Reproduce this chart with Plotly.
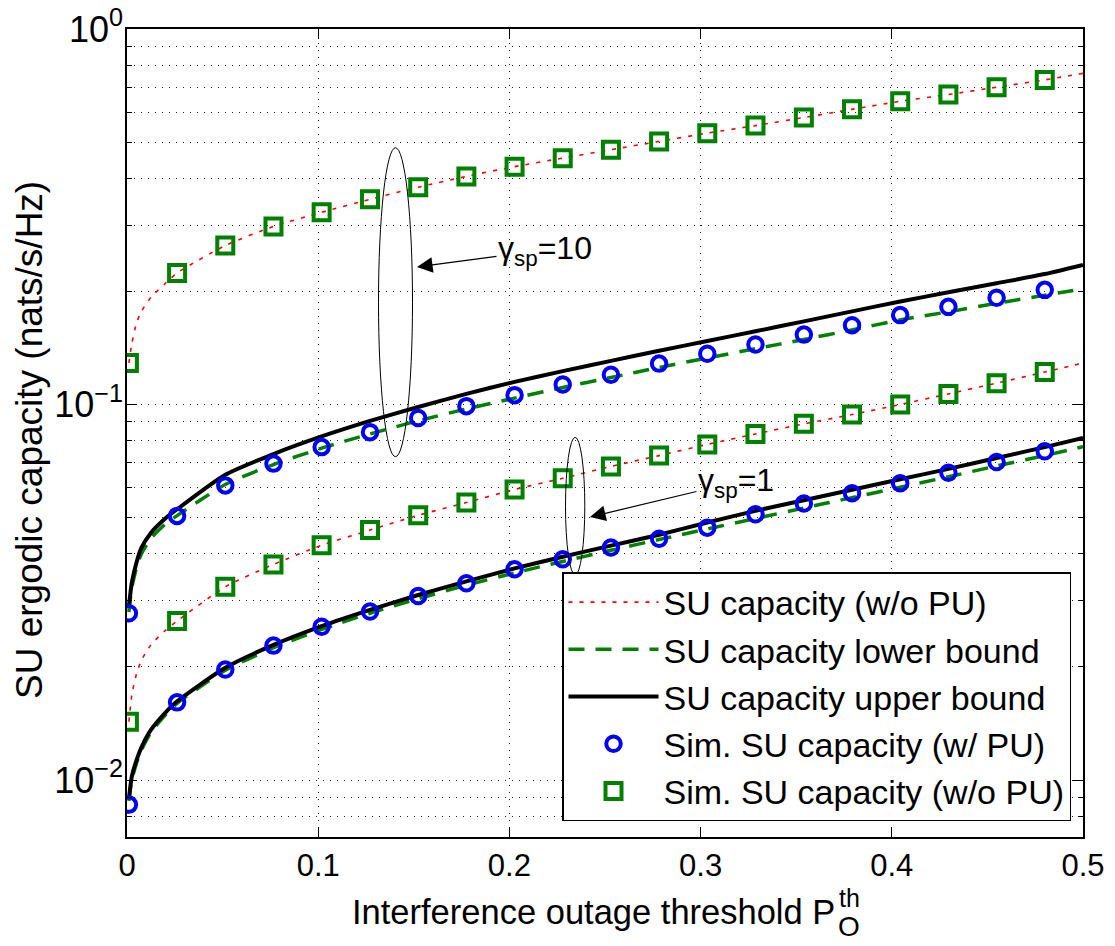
import plotly.graph_objects as go

# ---------------- data ----------------
x_sim = [0.001, 0.0262, 0.0514, 0.0766, 0.1018, 0.1271, 0.1523, 0.1775, 0.2027, 0.2279,
         0.2531, 0.2783, 0.3035, 0.3287, 0.3540, 0.3792, 0.4044, 0.4296, 0.4548, 0.4800]

sim_wo_pu_g10 = [0.129, 0.224, 0.265, 0.298, 0.325, 0.352, 0.379, 0.405, 0.430, 0.453,
                 0.477, 0.502, 0.528, 0.553, 0.581, 0.611, 0.642, 0.669, 0.700, 0.732]
sim_wo_pu_g1 = [0.0143, 0.0265, 0.0327, 0.0375, 0.0422, 0.0463, 0.0507, 0.0548, 0.0594, 0.0636,
                0.0684, 0.0731, 0.0783, 0.0835, 0.0888, 0.0940, 0.1000, 0.1067, 0.1140, 0.1220]
sim_w_pu_g10 = [0.0278, 0.0505, 0.0609, 0.0696, 0.0770, 0.0844, 0.0921, 0.0990, 0.1059, 0.1130,
                0.1200, 0.1285, 0.1365, 0.1444, 0.1535, 0.1625, 0.1730, 0.1820, 0.1925, 0.2020]
sim_w_pu_g1 = [0.0086, 0.0161, 0.0197, 0.0228, 0.0256, 0.0281, 0.0309, 0.0334, 0.0364, 0.0387,
               0.0416, 0.0439, 0.0470, 0.0510, 0.0545, 0.0580, 0.0617, 0.0658, 0.0703, 0.0751]

x_line = [0.001, 0.0025, 0.005, 0.0075, 0.0125, 0.02, 0.0262, 0.0514, 0.0766, 0.1018, 0.1271,
          0.1523, 0.1775, 0.2027, 0.2279, 0.2531, 0.2783, 0.3035, 0.3287, 0.3540, 0.3792,
          0.4044, 0.4296, 0.4548, 0.4800, 0.5]

cap_wo_pu_g10 = [0.129, 0.145, 0.165, 0.177, 0.193, 0.210, 0.224, 0.265, 0.298, 0.325, 0.352,
                 0.379, 0.405, 0.430, 0.453, 0.477, 0.502, 0.528, 0.553, 0.581, 0.611,
                 0.642, 0.669, 0.700, 0.732, 0.762]
cap_wo_pu_g1 = [0.0143, 0.0168, 0.0192, 0.0208, 0.0229, 0.0250, 0.0265, 0.0327, 0.0375, 0.0422, 0.0463,
                0.0507, 0.0548, 0.0594, 0.0636, 0.0684, 0.0731, 0.0783, 0.0835, 0.0888, 0.0940,
                0.1000, 0.1067, 0.1140, 0.1220, 0.1290]
upper_g10 = [0.0290, 0.0335, 0.0380, 0.0415, 0.0455, 0.0497, 0.0526, 0.0650, 0.0738, 0.0822, 0.0904,
             0.0985, 0.1067, 0.1149, 0.1227, 0.1307, 0.1390, 0.1476, 0.1567, 0.1665, 0.1770,
             0.1881, 0.1990, 0.2104, 0.2225, 0.2354]
lower_g10 = [0.0280, 0.0325, 0.0368, 0.0400, 0.0440, 0.0480, 0.0506, 0.0612, 0.0692, 0.0765, 0.0835,
             0.0905, 0.0973, 0.1040, 0.1110, 0.1180, 0.1255, 0.1330, 0.1408, 0.1490, 0.1580,
             0.1680, 0.1765, 0.1860, 0.1955, 0.2030]
upper_g1 = [0.0089, 0.0102, 0.0113, 0.0122, 0.0136, 0.0151, 0.0162, 0.0199, 0.0229, 0.0257, 0.0284,
            0.0311, 0.0338, 0.0366, 0.0393, 0.0421, 0.0450, 0.0485, 0.0521, 0.0556, 0.0593,
            0.0632, 0.0674, 0.0720, 0.0770, 0.0815]
lower_g1 = [0.0088, 0.0100, 0.0111, 0.0120, 0.0134, 0.0149, 0.0160, 0.0196, 0.0225, 0.0252, 0.0278,
            0.0304, 0.0330, 0.0356, 0.0382, 0.0409, 0.0437, 0.0466, 0.0497, 0.0530, 0.0565,
            0.0602, 0.0642, 0.0686, 0.0731, 0.0772]

x_ticks = [0, 0.1, 0.2, 0.3, 0.4, 0.5]
x_ticktext = ["0", "0.1", "0.2", "0.3", "0.4", "0.5"]
y_ticks = [0.01, 0.1, 1]
y_ticktext = ["10<sup>\u22122</sup>", "10<sup>\u22121</sup>", "10<sup>0</sup>"]
y_minor = [0.008, 0.009, 0.02, 0.03, 0.04, 0.05, 0.06, 0.07, 0.08, 0.09,
           0.2, 0.3, 0.4, 0.5, 0.6, 0.7, 0.8, 0.9]

legend_names = ["SU capacity (w/o PU)", "SU capacity lower bound", "SU capacity upper bound",
                "Sim. SU capacity (w/ PU)", "Sim. SU capacity (w/o PU)"]

# ---------------- figure ----------------
FONT = "Liberation Sans, Arial, Helvetica, sans-serif"
RED = "#ff0000"
GREEN = "#008000"
BLUE = "#0000ff"

fig = go.Figure()

red_line = dict(color=RED, width=1.6, dash="4px,7px", shape="spline", smoothing=0.6)
green_line = dict(color=GREEN, width=3.5, dash="16px,11px", shape="spline", smoothing=0.6)
black_line = dict(color="black", width=4, shape="spline", smoothing=0.6)

fig.add_trace(go.Scatter(x=x_line, y=cap_wo_pu_g10, mode="lines", line=red_line,
                         name=legend_names[0], legendgroup="a"))
fig.add_trace(go.Scatter(x=x_line, y=cap_wo_pu_g1, mode="lines", line=red_line,
                         name=legend_names[0], legendgroup="a", showlegend=False))
fig.add_trace(go.Scatter(x=x_line, y=lower_g10, mode="lines", line=green_line,
                         name=legend_names[1], legendgroup="b"))
fig.add_trace(go.Scatter(x=x_line, y=lower_g1, mode="lines", line=green_line,
                         name=legend_names[1], legendgroup="b", showlegend=False))
fig.add_trace(go.Scatter(x=x_line, y=upper_g10, mode="lines", line=black_line,
                         name=legend_names[2], legendgroup="c"))
fig.add_trace(go.Scatter(x=x_line, y=upper_g1, mode="lines", line=black_line,
                         name=legend_names[2], legendgroup="c", showlegend=False))

circ = dict(symbol="circle-open", size=14.5, color=BLUE, line=dict(color=BLUE, width=4))
sq = dict(symbol="square-open", size=16, color=GREEN, line=dict(color=GREEN, width=4))
fig.add_trace(go.Scatter(x=x_sim, y=sim_w_pu_g10, mode="markers", marker=circ,
                         name=legend_names[3], legendgroup="d"))
fig.add_trace(go.Scatter(x=x_sim, y=sim_w_pu_g1, mode="markers", marker=circ,
                         name=legend_names[3], legendgroup="d", showlegend=False))
fig.add_trace(go.Scatter(x=x_sim, y=sim_wo_pu_g10, mode="markers", marker=sq,
                         name=legend_names[4], legendgroup="e"))
fig.add_trace(go.Scatter(x=x_sim, y=sim_wo_pu_g1, mode="markers", marker=sq,
                         name=legend_names[4], legendgroup="e", showlegend=False))

# The page body adds an 8px margin, so the figure is drawn 8px smaller and
# all page-pixel positions below are shifted by that offset.
OFF = 8
W, H = 1115 - OFF, 946 - OFF
L, T = 127 - OFF, 29 - OFF
pw, ph = 956, 808
R, B = W - L - pw, H - T - ph


def px(xp):
    return (xp - OFF - L) / pw


def py(yp):
    return (T + ph - (yp - OFF)) / ph


grid = dict(showgrid=True, gridcolor="#222222", gridwidth=1, griddash="1px,6px")

fig.update_layout(
    template="none",
    width=W, height=H,
    margin=dict(l=L, r=R, t=T, b=B, autoexpand=False),
    paper_bgcolor="white", plot_bgcolor="white",
    font=dict(family=FONT, color="black", size=30),
    showlegend=True,
    legend=dict(x=px(1071), xanchor="right", y=py(821), yanchor="bottom",
                bgcolor="white", bordercolor="black", borderwidth=1.5,
                font=dict(family=FONT, size=34, color="black"),
                tracegroupgap=0, itemwidth=90, traceorder="normal"),
    xaxis=dict(range=[0, 0.5], tickmode="array", tickvals=x_ticks, ticktext=x_ticktext,
               ticks="inside", ticklen=10, tickwidth=1.3, tickcolor="black",
               showline=True, linecolor="black", linewidth=1.5, mirror="allticks",
               zeroline=False, automargin=False, ticklabeloverflow="allow",
               tickfont=dict(size=31), **grid),
    yaxis=dict(type="log", range=[-2.1518, 0], tickmode="array", tickvals=y_ticks,
               ticktext=y_ticktext, ticks="inside", ticklen=10, tickwidth=1.3,
               tickcolor="black", showline=True, linecolor="black", linewidth=1.5,
               mirror="allticks", zeroline=False, automargin=False,
               ticklabeloverflow="allow", ticklabelstandoff=-5, tickfont=dict(size=36),
               minor=dict(tickmode="array", tickvals=y_minor, ticks="inside", ticklen=5,
                          tickwidth=1.2, tickcolor="black", **grid),
               **grid),
)

ann = []
# axis titles
ann.append(dict(text="SU ergodic capacity (nats/s/Hz)", x=px(29), y=py(440), xref="paper",
                yref="paper", textangle=-90, showarrow=False, font=dict(size=37),
                xanchor="center", yanchor="middle"))
ann.append(dict(text="Interference outage threshold P", x=px(837), y=py(912), xref="paper",
                yref="paper", showarrow=False, font=dict(size=34.5),
                xanchor="right", yanchor="middle"))
ann.append(dict(text="th", x=px(837), y=py(898), xref="paper", yref="paper",
                showarrow=False, font=dict(size=25), xanchor="left", yanchor="middle"))
ann.append(dict(text="O", x=px(836), y=py(926), xref="paper", yref="paper",
                showarrow=False, font=dict(size=28), xanchor="left", yanchor="middle"))
# gamma labels with arrows
ann.append(dict(text="\u03b3<sub>sp</sub>=10", x=px(417), y=py(267), xref="paper", yref="paper",
                showarrow=True, ax=128, ay=-17, axref="pixel", ayref="pixel",
                arrowhead=2, arrowsize=2.6, arrowwidth=1.2, arrowcolor="black",
                standoff=0, startstandoff=0, font=dict(size=32)))
ann.append(dict(text="\u03b3<sub>sp</sub>=1", x=px(590), y=py(517), xref="paper", yref="paper",
                showarrow=True, ax=146, ay=-35, axref="pixel", ayref="pixel",
                arrowhead=2, arrowsize=2.6, arrowwidth=1.2, arrowcolor="black",
                standoff=0, startstandoff=0, font=dict(size=32)))
fig.update_layout(annotations=ann)

shapes = [
    dict(type="circle", xref="paper", yref="paper", x0=px(378.5), x1=px(412.5),
         y0=py(456.7), y1=py(147.7), line=dict(color="black", width=1)),
    dict(type="circle", xref="paper", yref="paper", x0=px(565.5), x1=px(584.8),
         y0=py(575), y1=py(437.3), line=dict(color="black", width=1)),
]
fig.update_layout(shapes=shapes)

fig.write_html("out.html")
